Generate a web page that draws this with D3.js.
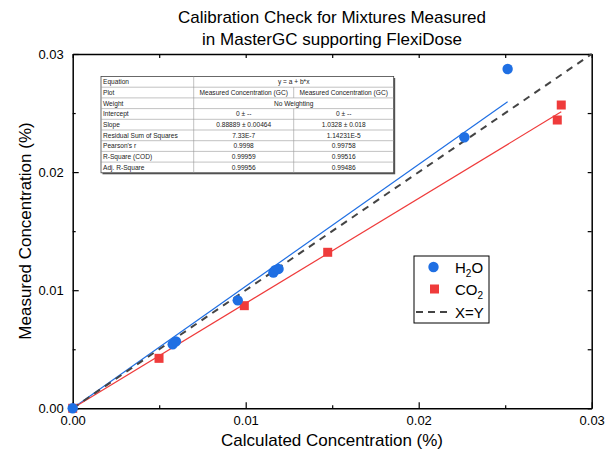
<!DOCTYPE html>
<html><head><meta charset="utf-8">
<script src="https://cdn.jsdelivr.net/npm/d3@7/dist/d3.min.js"></script>
<style>
body{margin:0;background:#fff;}
svg{font-family:"Liberation Sans",Arial,sans-serif;}
</style></head>
<body><svg id="c" width="608" height="459"></svg>
<script>
// ---- data ----
const h2oX = [0, 0.00578, 0.00597, 0.00954, 0.0116, 0.0117, 0.0119, 0.02264, 0.02514];
const h2oY = [0, 0.00542, 0.00567, 0.00914, 0.0115, 0.0117, 0.0118, 0.02295, 0.02873];
const co2X = [0, 0.00499, 0.00992, 0.01474, 0.02801, 0.02824];
const co2Y = [0, 0.00423, 0.00869, 0.01321, 0.02441, 0.02568];
const slopeH2O = 1.0328;
const slopeCO2 = 0.88889;
const majorTicks = [0, 0.01, 0.02, 0.03];
const minorTicks = [0.005, 0.015, 0.025];
const tableLabels = ["Equation","Plot","Weight","Intercept","Slope","Residual Sum of Squares","Pearson's r","R-Square (COD)","Adj. R-Square"];
const tableCol1 = ["y = a + b*x","Measured Concentration (GC)","No Weighting","0 \u00b1 --","0.88889 \u00b1 0.00464","7.33E-7","0.9998","0.99959","0.99956"];
const tableCol2 = [null,"Measured Concentration (GC)",null,"0 \u00b1 --","1.0328 \u00b1 0.018","1.14231E-5","0.99758","0.99516","0.99486"];

const blue = "#1f6fe3", red = "#ef3b3b";
const svg = d3.select("#c");
const L = 72.7, R = 591.7, T = 54, B = 408.3;
const x = d3.scaleLinear().domain([0, 0.03]).range([L, R]);
const y = d3.scaleLinear().domain([0, 0.03]).range([B, T]);
const fmt = d3.format(".2f");

// title
svg.append("text").attr("x", 332).attr("y", 23).attr("text-anchor","middle").attr("font-size",17).text("Calibration Check for Mixtures Measured");
svg.append("text").attr("x", 332).attr("y", 45).attr("text-anchor","middle").attr("font-size",17).text("in MasterGC supporting FlexiDose");

// axes
function styleAxis(g){ g.selectAll("path").attr("stroke","#000").attr("stroke-width",1.5); g.selectAll("line").attr("stroke","#000").attr("stroke-width",1.2); g.selectAll("text").attr("font-size",13).attr("fill","#000").attr("font-family","Liberation Sans, Arial, sans-serif"); }
const gb = svg.append("g").attr("transform",`translate(0,${B})`).call(d3.axisBottom(x).tickValues(majorTicks).tickFormat(fmt).tickSizeInner(-6).tickSizeOuter(0).tickPadding(7));
styleAxis(gb);
svg.append("g").attr("transform",`translate(0,${B})`).call(d3.axisBottom(x).tickValues(minorTicks).tickFormat("").tickSizeInner(-3).tickSizeOuter(0)).call(g=>{g.select("path").remove();g.selectAll("line").attr("stroke","#000").attr("stroke-width",1.2);});
const gl = svg.append("g").attr("transform",`translate(${L},0)`).call(d3.axisLeft(y).tickValues(majorTicks).tickFormat(fmt).tickSizeInner(-6).tickSizeOuter(0).tickPadding(9));
styleAxis(gl);
svg.append("g").attr("transform",`translate(${L},0)`).call(d3.axisLeft(y).tickValues(minorTicks).tickFormat("").tickSizeInner(-3).tickSizeOuter(0)).call(g=>{g.select("path").remove();g.selectAll("line").attr("stroke","#000").attr("stroke-width",1.2);});
const gt = svg.append("g").attr("transform",`translate(0,${T})`).call(d3.axisTop(x).tickValues(majorTicks.concat(minorTicks)).tickFormat("").tickSizeInner(-4).tickSizeOuter(0));
styleAxis(gt);
const gr = svg.append("g").attr("transform",`translate(${R},0)`).call(d3.axisRight(y).tickValues(majorTicks.concat(minorTicks)).tickFormat("").tickSizeInner(-4).tickSizeOuter(0));
styleAxis(gr);

// axis labels
svg.append("text").attr("x", 332).attr("y", 446).attr("text-anchor","middle").attr("font-size",17).text("Calculated Concentration (%)");
svg.append("text").attr("transform","translate(31,231) rotate(-90)").attr("text-anchor","middle").attr("font-size",17).text("Measured Concentration (%)");

// fit lines
const line = d3.line().x(d=>x(d[0])).y(d=>y(d[1]));
const maxH = d3.max(h2oX), maxC = d3.max(co2X);
svg.append("path").attr("d", line([[0,0],[maxH, slopeH2O*maxH]])).attr("stroke",blue).attr("stroke-width",1.2).attr("fill","none");
svg.append("path").attr("d", line([[0,0],[maxC, slopeCO2*maxC]])).attr("stroke",red).attr("stroke-width",1.2).attr("fill","none");
// X=Y
svg.append("path").attr("d", line([[0,0],[0.03,0.03]])).attr("stroke","#444").attr("stroke-width",2).attr("stroke-dasharray","7,6").attr("fill","none");

// points
const co2 = co2X.map((v,i)=>[v,co2Y[i]]);
const h2o = h2oX.map((v,i)=>[v,h2oY[i]]);
svg.append("g").selectAll("rect").data(co2).join("rect")
  .attr("x",d=>x(d[0])-4.5).attr("y",d=>y(d[1])-4.5).attr("width",9).attr("height",9).attr("fill",red);
svg.append("g").selectAll("circle").data(h2o).join("circle")
  .attr("cx",d=>x(d[0])).attr("cy",d=>y(d[1])).attr("r",5.2).attr("fill",blue);

// table
const tx = 101, ty = 76.5, c1 = 193.7, c2 = 293.7, c3 = 393.7, rh = 10.7;
const tg = svg.append("g").attr("font-size",6.6).attr("fill","#222");
tg.append("rect").attr("x",tx+1.5).attr("y",ty+1.5).attr("width",c3-tx).attr("height",rh*9).attr("fill","#555");
tg.append("rect").attr("x",tx).attr("y",ty).attr("width",c3-tx).attr("height",rh*9).attr("fill","#fff").attr("stroke","#444").attr("stroke-width",0.8);
tableLabels.forEach((lab,i)=>{
  const yy = ty + i*rh;
  if(i>0) tg.append("line").attr("x1",tx).attr("x2",c3).attr("y1",yy).attr("y2",yy).attr("stroke","#999").attr("stroke-width",0.6);
  tg.append("text").attr("x",tx+2).attr("y",yy+rh/2+2.3).text(lab);
  if(tableCol2[i]===null){
    tg.append("text").attr("x",(c1+c3)/2).attr("y",yy+rh/2+2.3).attr("text-anchor","middle").text(tableCol1[i]);
  } else {
    tg.append("text").attr("x",(c1+c2)/2).attr("y",yy+rh/2+2.3).attr("text-anchor","middle").text(tableCol1[i]);
    tg.append("text").attr("x",(c2+c3)/2).attr("y",yy+rh/2+2.3).attr("text-anchor","middle").text(tableCol2[i]);
    tg.append("line").attr("x1",c2).attr("x2",c2).attr("y1",yy).attr("y2",yy+rh).attr("stroke","#999").attr("stroke-width",0.6);
  }
});
tg.append("line").attr("x1",c1).attr("x2",c1).attr("y1",ty).attr("y2",ty+rh*9).attr("stroke","#999").attr("stroke-width",0.6);

// legend
const lg = svg.append("g");
lg.append("rect").attr("x",414).attr("y",256).attr("width",75).attr("height",67).attr("fill","#fff").attr("stroke","#000").attr("stroke-width",1);
lg.append("circle").attr("cx",433.5).attr("cy",267).attr("r",5.2).attr("fill",blue);
lg.append("rect").attr("x",430).attr("y",284.5).attr("width",9).attr("height",9).attr("fill",red);
lg.append("line").attr("x1",416).attr("x2",451).attr("y1",312).attr("y2",312).attr("stroke","#444").attr("stroke-width",2).attr("stroke-dasharray","7,5");
const t1 = lg.append("text").attr("x",455).attr("y",273).attr("font-size",15);
t1.append("tspan").text("H"); t1.append("tspan").attr("font-size",10).attr("dy",4).text("2"); t1.append("tspan").attr("dy",-4).text("O");
const t2 = lg.append("text").attr("x",455).attr("y",295).attr("font-size",15);
t2.append("tspan").text("CO"); t2.append("tspan").attr("font-size",10).attr("dy",4).text("2");
lg.append("text").attr("x",455).attr("y",318).attr("font-size",15).text("X=Y");
</script></body></html>
